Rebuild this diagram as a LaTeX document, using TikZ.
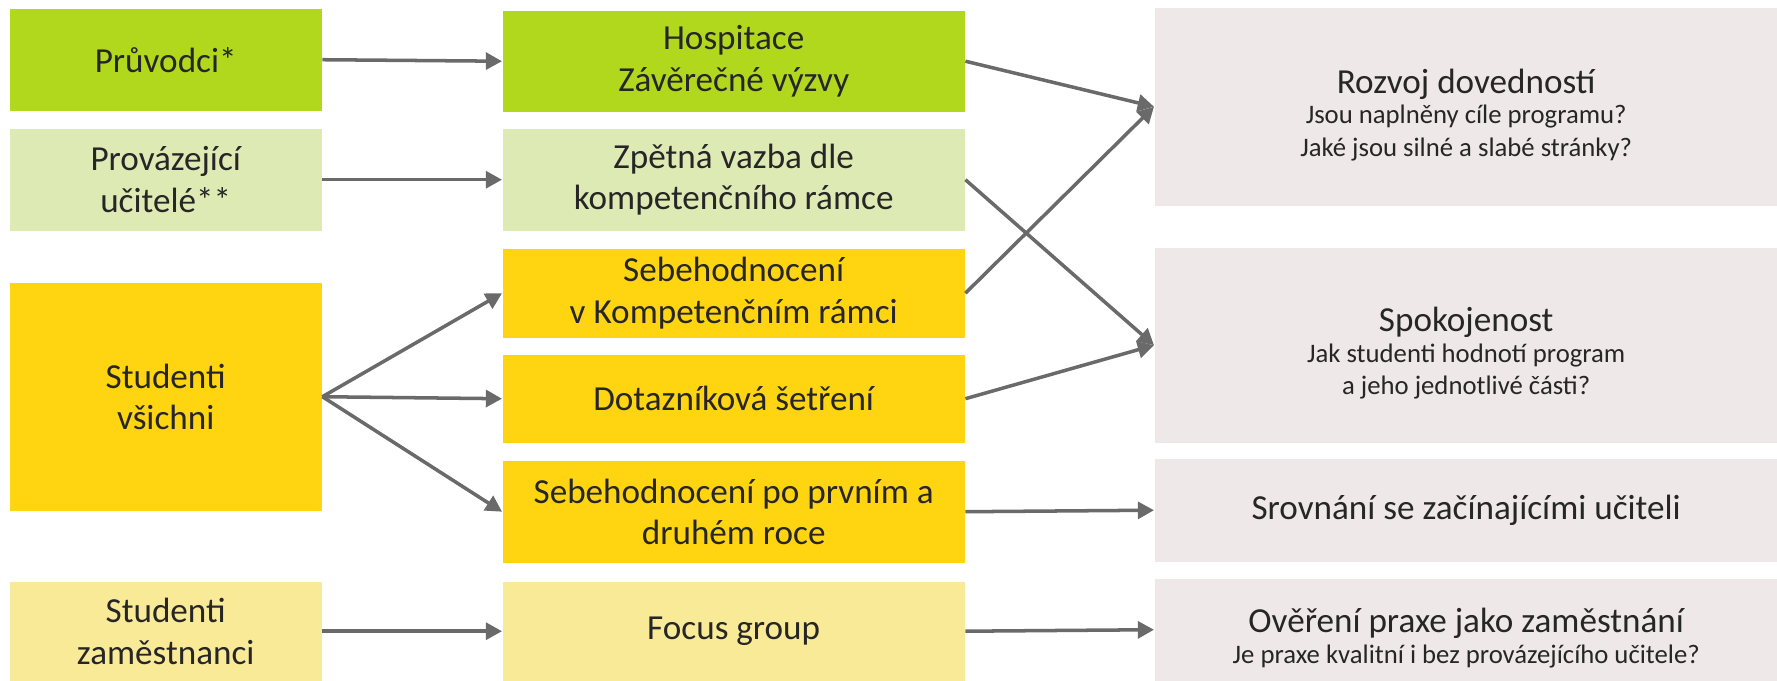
\documentclass[tikz,border=0pt]{standalone}
\usepackage{fontspec}
\setmainfont{Carlito}
\usetikzlibrary{arrows.meta}

\definecolor{zelena}{HTML}{B2D81E}
\definecolor{svzelena}{HTML}{DEEAB4}
\definecolor{zluta}{HTML}{FFD411}
\definecolor{svzluta}{HTML}{F9EA97}
\definecolor{seda}{HTML}{EEE8E8}
\definecolor{sipkova}{HTML}{6A6A6A}
\definecolor{pismo}{HTML}{262626}

\newcommand{\podtext}{\fontsize{7.6}{9}\selectfont}
\newcommand{\navrch}{\rule{0pt}{11.5pt}}

\tikzset{
    blok/.style={anchor=north west, inner sep=0pt, align=center, text=pismo,
        font=\fontsize{10}{11.8}\selectfont},
    levy/.style={blok, minimum width=3.12cm},
    stredni/.style={blok, minimum width=4.62cm},
    pravy/.style={blok, minimum width=6.23cm, fill=seda},
    sipka/.style={draw=sipkova, line width=1pt,
        -{Triangle[length=4.6pt, width=4.8pt]}}
}

\begin{document}
\begin{tikzpicture}
    \useasboundingbox (0,0) rectangle (17.77,-6.80);
    % zdroje
    \node[levy, fill=zelena, minimum height=1.02cm] (pruvodci) at (0.09,-0.08) {Průvodci*};
    \node[levy, fill=svzelena, minimum height=1.02cm] (provazejici) at (0.09,-1.28) {Provázející\\učitelé**};
    \node[levy, fill=zluta, minimum height=2.28cm] (vsichni) at (0.09,-2.82) {Studenti\\všichni};
    \node[levy, fill=svzluta, minimum height=0.99cm] (zamestnanci) at (0.09,-5.81) {Studenti\\zaměstnanci};
    % nastroje
    \node[stredni, fill=zelena, minimum height=1.01cm] (hospitace) at (5.02,-0.10) {Hospitace\\Závěrečné výzvy};
    \node[stredni, fill=svzelena, minimum height=1.02cm] (zpetna) at (5.02,-1.28) {Zpětná vazba dle\\kompetenčního rámce};
    \node[stredni, fill=zluta, minimum height=0.89cm] (sebekr) at (5.02,-2.48) {Sebehodnocení\\v Kompetenčním rámci};
    \node[stredni, fill=zluta, minimum height=0.88cm] (dotaznik) at (5.02,-3.54) {Dotazníková šetření};
    \node[stredni, fill=zluta, minimum height=1.02cm] (sebepo) at (5.02,-4.60) {Sebehodnocení po prvním a\\druhém roce};
    \node[stredni, fill=svzluta, minimum height=0.99cm] (focus) at (5.02,-5.81) {Focus group};
    % cile
    \node[pravy, minimum height=1.98cm] (rozvoj) at (11.54,-0.07)
        {\navrch Rozvoj dovedností\\[-3pt]{\podtext Jsou naplněny cíle programu?}\\[-2.6pt]{\podtext Jaké jsou silné a slabé stránky?}};
    \node[pravy, minimum height=1.95cm] (spokojenost) at (11.54,-2.47)
        {\navrch Spokojenost\\[-3pt]{\podtext Jak studenti hodnotí program}\\[-2.6pt]{\podtext a jeho jednotlivé části?}};
    \node[pravy, minimum height=1.03cm] (srovnani) at (11.54,-4.58) {Srovnání se začínajícími učiteli};
    \node[pravy, minimum height=1.02cm] (overeni) at (11.54,-5.78)
        {\navrch Ověření praxe jako zaměstnání\\[-3pt]{\podtext Je praxe kvalitní i bez provázejícího učitele?}};
    \foreach \a/\b in {pruvodci/hospitace, provazejici/zpetna, vsichni/sebekr, vsichni/dotaznik,
            vsichni/sebepo, zamestnanci/focus, hospitace/rozvoj, zpetna/spokojenost,
            sebekr/rozvoj, dotaznik/spokojenost, sebepo/srovnani, focus/overeni} {
        \draw[sipka] (\a.east) -- (\b.west);
    }
\end{tikzpicture}
\end{document}
